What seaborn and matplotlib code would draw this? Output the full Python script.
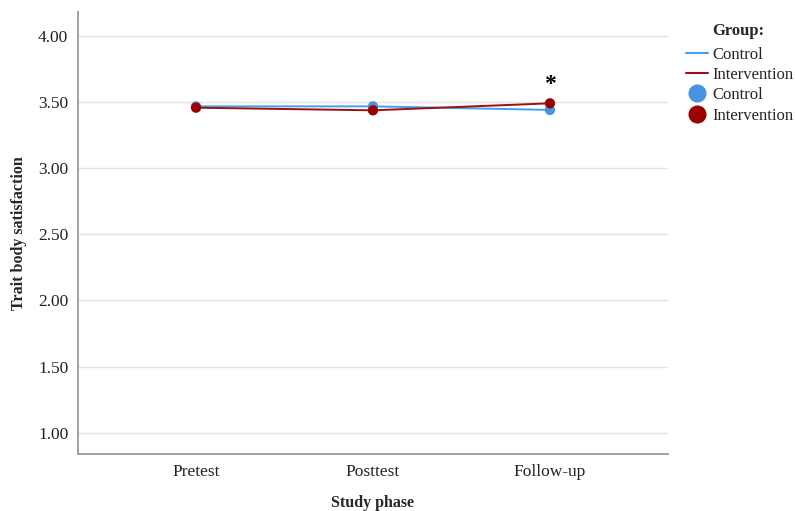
import matplotlib
matplotlib.use("Agg")
import matplotlib.pyplot as plt
from matplotlib.lines import Line2D
import seaborn as sns
import pandas as pd

# Mean trait body satisfaction per study phase and group
phases = ["Pretest", "Posttest", "Follow-up"]
control = [3.467, 3.467, 3.440]
intervention = [3.457, 3.437, 3.490]
groups = ["Control", "Intervention"]
y_ticks = [1.00, 1.50, 2.00, 2.50, 3.00, 3.50, 4.00]

line_colors = {"Control": "#3EA2EE", "Intervention": "#A00E0E"}
marker_colors = {"Control": "#4A93E0", "Intervention": "#9B0000"}

df = pd.DataFrame({
    "phase": phases * 2,
    "score": control + intervention,
    "group": ["Control"] * 3 + ["Intervention"] * 3,
})

sns.set_theme(style="white")
plt.rcParams["font.family"] = ["Liberation Serif", "DejaVu Serif"]

fig = plt.figure(figsize=(7.95, 5.11), dpi=100)
ax = fig.add_axes([78 / 795, 1 - 454 / 511, 590 / 795, 442 / 511])

sns.lineplot(data=df, x="phase", y="score", hue="group", hue_order=groups,
             palette=line_colors, linewidth=1.4, legend=False, ax=ax, zorder=3)
sns.scatterplot(data=df, x="phase", y="score", hue="group", hue_order=groups,
                palette=marker_colors, s=55, edgecolor="none", legend=False,
                ax=ax, zorder=4)

# Significance marker above the follow-up point
ax.annotate("*", xy=(2, intervention[2]), xytext=(0, 6), textcoords="offset points",
            ha="center", va="bottom", fontsize=17, fontweight="bold", color="black")

ax.set_xlim(-0.667, 2.667)
ax.set_ylim(0.84, 4.18)
ax.set_yticks(y_ticks)
ax.set_yticklabels([f"{t:.2f}" for t in y_ticks], fontsize=12.5)
ax.set_xticks(range(len(phases)))
ax.set_xticklabels(phases, fontsize=12.5)
ax.tick_params(axis="both", length=0, pad=7, colors="#222222")
ax.yaxis.grid(True, color="#E3E3E3", linewidth=1)
ax.set_axisbelow(True)

for side in ("top", "right"):
    ax.spines[side].set_visible(False)
for side in ("left", "bottom"):
    ax.spines[side].set_color("#9A9A9A")
    ax.spines[side].set_linewidth(1.3)

ax.set_xlabel("Study phase", fontsize=11.5, fontweight="bold", labelpad=11)
ax.set_ylabel("Trait body satisfaction", fontsize=11.5, fontweight="bold", labelpad=8)

# Legend: line entries followed by marker entries
handles = [
    Line2D([], [], color=line_colors["Control"], linewidth=1.5),
    Line2D([], [], color=line_colors["Intervention"], linewidth=1.5),
    Line2D([], [], color=marker_colors["Control"], marker="o", linestyle="none", markersize=12),
    Line2D([], [], color=marker_colors["Intervention"], marker="o", linestyle="none", markersize=12),
]
labels = groups + groups
fig.text(712 / 795, 1 - 31 / 511, "Group:", fontsize=12, fontweight="bold",
         ha="left", va="center")
fig.legend(handles, labels, loc="upper left", bbox_to_anchor=(686 / 795, 1 - 47 / 511),
           frameon=False, fontsize=12, handlelength=1.3, handletextpad=0.3,
           labelspacing=0.25, borderpad=0, borderaxespad=0)

fig.savefig("out.png", dpi=100, facecolor="white")
